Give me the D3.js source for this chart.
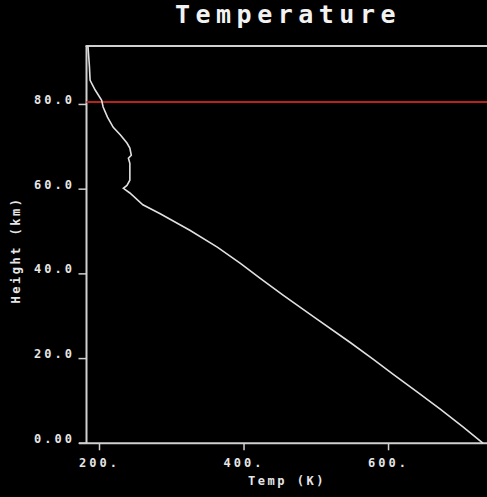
<!DOCTYPE html>
<html>
<head>
<meta charset="utf-8">
<script src="https://cdn.jsdelivr.net/npm/d3@7"></script>
<style>
  html, body { margin: 0; padding: 0; background: #000; }
  svg { display: block; }
  text { font-family: "DejaVu Sans Mono", monospace; font-weight: bold; fill: #e6e6e6; }
</style>
</head>
<body>
<div id="chart"></div>
<script>
// temperature profile
const heights = [93.8, 89.1, 85.7, 83.4, 81.0, 79.4, 77.0, 74.6, 72.8, 70.9, 69.7, 68.0, 67.3, 66.1,
                 62.1, 60.9, 60.2, 59.1, 56.3, 54.2, 50.3, 46.3, 42.5, 39.0, 35.0, 29.9, 23.8, 19.8,
                 16.2, 12.1, 8.0, 3.9, 0.0];
const temps = [184, 186, 187, 194, 203, 205, 211, 219, 229, 238, 242, 244, 240, 242,
               242, 238, 233, 242, 260, 284, 325, 363, 395, 422, 454, 496, 547, 579,
               607, 640, 672, 703, 731];
const refHeight = 80.6;
const xTicks = [200, 400, 600];
const xTickLabels = ["200.", "400.", "600."];
const yTicks = [0, 20, 40, 60, 80];
const yTickLabels = ["0.00", "20.0", "40.0", "60.0", "80.0"];

const width = 487;
const height = 497;

const svg = d3.select("#chart")
    .append("svg")
    .attr("width", width)
    .attr("height", height);

const x = d3.scaleLinear().domain([182, 740]).range([86.5, 489.7]);
const y = d3.scaleLinear().domain([0, 93.8]).range([443.3, 46]);

// title
svg.append("text")
    .attr("x", 288)
    .attr("y", 23)
    .attr("text-anchor", "middle")
    .style("font-size", "25px")
    .style("letter-spacing", "5.5px")
    .style("fill", "#f2f2f2")
    .text("Temperature");

// frame: left, top, bottom
const axisColor = "#d0d0d0";
svg.append("line")
    .attr("x1", x(182)).attr("x2", x(182))
    .attr("y1", y(93.8)).attr("y2", y(0))
    .style("stroke", axisColor).style("stroke-width", 2);
svg.append("line")
    .attr("x1", x(182) - 1).attr("x2", width)
    .attr("y1", y(93.8)).attr("y2", y(93.8))
    .style("stroke", axisColor).style("stroke-width", 2);
svg.append("line")
    .attr("x1", 79).attr("x2", width)
    .attr("y1", y(0)).attr("y2", y(0))
    .style("stroke", axisColor).style("stroke-width", 2);

// y ticks
const yt = svg.append("g").selectAll("g")
    .data(yTicks)
    .enter()
    .append("g");
yt.append("line")
    .attr("x1", 78.5).attr("x2", x(182))
    .attr("y1", (d) => y(d)).attr("y2", (d) => y(d))
    .style("stroke", axisColor).style("stroke-width", 1.5);
yt.append("text")
    .attr("x", 75)
    .attr("y", (d) => y(d) - 0.5)
    .attr("text-anchor", "end")
    .style("font-size", "12px")
    .style("letter-spacing", "3px")
    .text((d, i) => yTickLabels[i]);

// x ticks
const xt = svg.append("g").selectAll("g")
    .data(xTicks)
    .enter()
    .append("g");
xt.append("line")
    .attr("x1", (d) => x(d)).attr("x2", (d) => x(d))
    .attr("y1", y(0)).attr("y2", y(0) + 7)
    .style("stroke", axisColor).style("stroke-width", 1.5);
xt.append("text")
    .attr("x", (d) => x(d))
    .attr("y", 467)
    .attr("text-anchor", "middle")
    .style("font-size", "12px")
    .style("letter-spacing", "3px")
    .text((d, i) => xTickLabels[i]);

// axis titles
svg.append("text")
    .attr("x", 287)
    .attr("y", 485)
    .attr("text-anchor", "middle")
    .style("font-size", "12px")
    .style("letter-spacing", "2.5px")
    .text("Temp (K)");
svg.append("text")
    .attr("transform", "translate(20,250) rotate(-90)")
    .attr("text-anchor", "middle")
    .style("font-size", "12px")
    .style("letter-spacing", "2.5px")
    .text("Height (km)");

// reference line
svg.append("line")
    .attr("x1", x(182)).attr("x2", width)
    .attr("y1", y(refHeight)).attr("y2", y(refHeight))
    .style("stroke", "#b8241a").style("stroke-width", 2);

// profile
const profile = temps.map((t, i) => ({ t: t, h: heights[i] }));
const line = d3.line()
    .x((d) => x(d.t))
    .y((d) => y(d.h));
svg.append("path")
    .datum(profile)
    .attr("d", line)
    .style("fill", "none")
    .style("stroke", "#e0e0e0")
    .style("stroke-width", 1.6);
</script>
</body>
</html>
